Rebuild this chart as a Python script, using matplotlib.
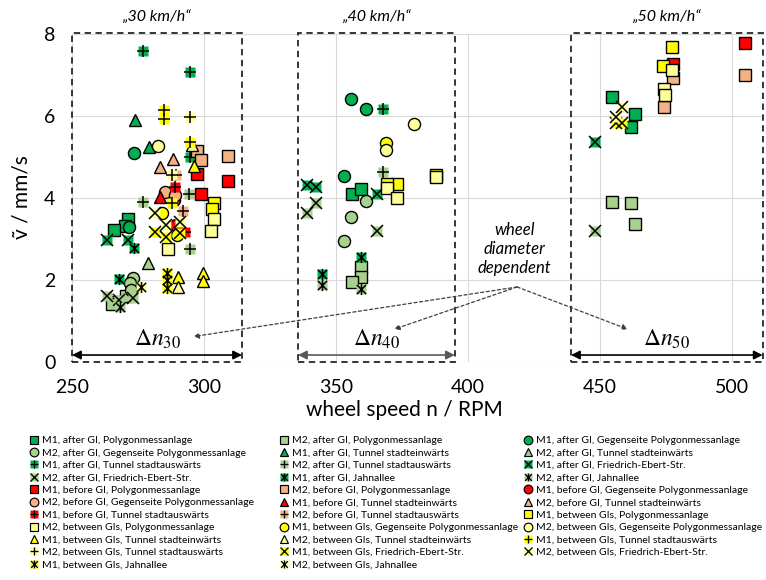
import matplotlib
matplotlib.use('Agg')
import matplotlib.pyplot as plt
from matplotlib.path import Path
from matplotlib.lines import Line2D
from matplotlib.legend_handler import HandlerTuple
from matplotlib.patches import Rectangle

plt.rcParams['font.family'] = ['Lato', 'DejaVu Sans']
plt.rcParams['mathtext.fontset'] = 'stix'

# ---------------- data (wheel speed n / RPM, vibration velocity v / mm/s) ----------------
after_m1_poly_n = [271.3, 270.1, 265.9, 356.2, 359.5, 454.7, 463.3, 461.7]
after_m1_poly_v = [3.50, 3.32, 3.22, 4.09, 4.21, 6.46, 6.04, 5.74]
after_m2_poly_n = [266.3, 270.5, 265.0, 359.4, 359.5, 356.2, 454.7, 461.7, 463.3]
after_m2_poly_v = [1.47, 1.60, 1.41, 2.31, 2.08, 1.96, 3.91, 3.87, 3.36]
after_m1_gegen_n = [273.5, 271.7, 355.6, 361.2, 353.0]
after_m1_gegen_v = [5.10, 3.30, 6.41, 6.16, 4.54]
after_m2_gegen_n = [273.2, 272.0, 272.3, 361.2, 355.6, 353.0]
after_m2_gegen_v = [2.04, 1.92, 1.76, 3.93, 3.54, 2.96]
after_m1_tein_n = [273.7, 279.0]
after_m1_tein_v = [5.90, 5.24]
after_m2_tein_n = [278.9]
after_m2_tein_v = [2.41]
after_m1_taus_n = [277.0, 294.6, 294.7, 367.7]
after_m1_taus_v = [7.59, 7.07, 5.01, 6.16]
after_m2_taus_n = [277.0, 294.4, 294.7, 367.7]
after_m2_taus_v = [3.90, 4.10, 2.76, 4.64]
after_m1_febert_n = [263.1, 271.3, 339.1, 342.3, 365.4, 448.1]
after_m1_febert_v = [2.98, 2.98, 4.32, 4.28, 4.10, 5.37]
after_m2_febert_n = [263.1, 267.9, 273.2, 342.3, 339.1, 365.4, 448.1]
after_m2_febert_v = [1.61, 1.51, 1.55, 3.87, 3.64, 3.20, 3.20]
after_m1_jahn_n = [273.5, 267.9, 359.5, 344.6]
after_m1_jahn_v = [2.77, 2.02, 2.55, 2.15]
after_m2_jahn_n = [268.2, 359.5, 344.6]
after_m2_jahn_v = [1.35, 1.78, 1.88]

before_m1_poly_n = [297.2, 309.2, 298.7, 477.8, 504.9]
before_m1_poly_v = [4.58, 4.42, 4.09, 7.28, 7.78]
before_m2_poly_n = [297.3, 298.7, 309.2, 477.8, 474.2, 504.9]
before_m2_poly_v = [5.15, 4.92, 5.03, 6.92, 6.21, 7.00]
before_m1_gegen_n = [288.5, 289.5]
before_m1_gegen_v = [3.95, 3.35]
before_m2_gegen_n = [285.2, 289.0]
before_m2_gegen_v = [4.15, 4.07]
before_m1_tein_n = [283.3]
before_m1_tein_v = [4.02]
before_m2_tein_n = [288.4, 283.3]
before_m2_tein_v = [4.94, 4.75]
before_m1_taus_n = [289.0, 292.8]
before_m1_taus_v = [4.28, 3.18]
before_m2_taus_n = [289.5, 292.2]
before_m2_taus_v = [4.56, 3.69]

between_m1_poly_n = [303.8, 302.9, 373.2, 369.2, 387.9, 477.4, 474.0]
between_m1_poly_v = [3.87, 3.73, 4.34, 4.34, 4.55, 7.69, 7.22]
between_m2_poly_n = [303.8, 302.7, 286.5, 369.2, 373.2, 387.9, 477.4, 474.2, 474.6]
between_m2_poly_v = [3.49, 3.20, 2.75, 4.24, 3.99, 4.52, 7.12, 6.65, 6.51]
between_m1_gegen_n = [284.2, 289.9, 368.8]
between_m1_gegen_v = [3.64, 3.10, 5.35]
between_m2_gegen_n = [282.5, 379.5, 368.8]
between_m2_gegen_v = [5.27, 5.80, 5.17]
between_m1_tein_n = [296.3, 290.3, 299.5, 299.5]
between_m1_tein_v = [4.78, 2.07, 2.16, 1.98]
between_m2_tein_n = [290.3, 295.5]
between_m2_tein_v = [1.82, 5.30]
between_m1_taus_n = [284.8, 284.8, 294.7, 287.8]
between_m1_taus_v = [6.15, 5.92, 5.36, 3.87]
between_m2_taus_n = [294.7, 287.7]
between_m2_taus_v = [5.98, 4.56]
between_m1_febert_n = [281.4, 285.6, 290.9, 456.1, 458.2]
between_m1_febert_v = [3.18, 3.06, 3.14, 5.82, 5.82]
between_m2_febert_n = [281.4, 285.6, 290.9, 458.4, 456.1]
between_m2_febert_v = [3.64, 3.34, 3.42, 6.21, 5.98]
between_m1_jahn_n = [285.9, 285.9, 285.9]
between_m1_jahn_v = [2.18, 2.00, 1.80]
between_m2_jahn_n = [276.0]
between_m2_jahn_v = [1.84]

x_ticks = [250, 300, 350, 400, 450, 500]
y_ticks = [0, 2, 4, 6, 8]
speed_labels = ['„30 km/h“', '„40 km/h“', '„50 km/h“']
delta_labels = [r'$\Delta n_{30}$', r'$\Delta n_{40}$', r'$\Delta n_{50}$']
box_ranges = [(250.0, 314.4), (335.6, 395.0), (439.0, 511.6)]

GREEN, LGREEN = '#00B050', '#A9D18E'
RED, SALMON = '#FF0000', '#F4B183'
YELLOW, LYELLOW = '#FFFF00', '#FFFF99'

series = [
    ('M1, after GI, Polygonmessanlage', GREEN, 's', after_m1_poly_n, after_m1_poly_v),
    ('M2, after GI, Polygonmessanlage', LGREEN, 's', after_m2_poly_n, after_m2_poly_v),
    ('M1, after GI, Gegenseite Polygonmessanlage', GREEN, 'o', after_m1_gegen_n, after_m1_gegen_v),
    ('M2, after GI, Gegenseite Polygonmessanlage', LGREEN, 'o', after_m2_gegen_n, after_m2_gegen_v),
    ('M1, after GI, Tunnel stadteinwärts', GREEN, '^', after_m1_tein_n, after_m1_tein_v),
    ('M2, after GI, Tunnel stadteinwärts', LGREEN, '^', after_m2_tein_n, after_m2_tein_v),
    ('M1, after GI, Tunnel stadtauswärts', GREEN, 'plus', after_m1_taus_n, after_m1_taus_v),
    ('M2, after GI, Tunnel stadtauswärts', LGREEN, 'plus', after_m2_taus_n, after_m2_taus_v),
    ('M1, after GI, Friedrich-Ebert-Str.', GREEN, 'x', after_m1_febert_n, after_m1_febert_v),
    ('M2, after GI, Friedrich-Ebert-Str.', LGREEN, 'x', after_m2_febert_n, after_m2_febert_v),
    ('M1, after GI, Jahnallee', GREEN, 'star', after_m1_jahn_n, after_m1_jahn_v),
    ('M2, after GI, Jahnallee', LGREEN, 'star', after_m2_jahn_n, after_m2_jahn_v),
    ('M1, before GI, Polygonmessanlage', RED, 's', before_m1_poly_n, before_m1_poly_v),
    ('M2, before GI, Polygonmessanlage', SALMON, 's', before_m2_poly_n, before_m2_poly_v),
    ('M1, before GI, Gegenseite Polygonmessanlage', RED, 'o', before_m1_gegen_n, before_m1_gegen_v),
    ('M2, before GI, Gegenseite Polygonmessanlage', SALMON, 'o', before_m2_gegen_n, before_m2_gegen_v),
    ('M1, before GI, Tunnel stadteinwärts', RED, '^', before_m1_tein_n, before_m1_tein_v),
    ('M2, before GI, Tunnel stadteinwärts', SALMON, '^', before_m2_tein_n, before_m2_tein_v),
    ('M1, before GI, Tunnel stadtauswärts', RED, 'plus', before_m1_taus_n, before_m1_taus_v),
    ('M2, before GI, Tunnel stadtauswärts', SALMON, 'plus', before_m2_taus_n, before_m2_taus_v),
    ('M1, between GIs, Polygonmessanlage', YELLOW, 's', between_m1_poly_n, between_m1_poly_v),
    ('M2, between GIs, Polygonmessanlage', LYELLOW, 's', between_m2_poly_n, between_m2_poly_v),
    ('M1, between GIs, Gegenseite Polygonmessanlage', YELLOW, 'o', between_m1_gegen_n, between_m1_gegen_v),
    ('M2, between GIs, Gegenseite Polygonmessanlage', LYELLOW, 'o', between_m2_gegen_n, between_m2_gegen_v),
    ('M1, between GIs, Tunnel stadteinwärts', YELLOW, '^', between_m1_tein_n, between_m1_tein_v),
    ('M2, between GIs, Tunnel stadteinwärts', LYELLOW, '^', between_m2_tein_n, between_m2_tein_v),
    ('M1, between GIs, Tunnel stadtauswärts', YELLOW, 'plus', between_m1_taus_n, between_m1_taus_v),
    ('M2, between GIs, Tunnel stadtauswärts', LYELLOW, 'plus', between_m2_taus_n, between_m2_taus_v),
    ('M1, between GIs, Friedrich-Ebert-Str.', YELLOW, 'x', between_m1_febert_n, between_m1_febert_v),
    ('M2, between GIs, Friedrich-Ebert-Str.', LYELLOW, 'x', between_m2_febert_n, between_m2_febert_v),
    ('M1, between GIs, Jahnallee', YELLOW, 'star', between_m1_jahn_n, between_m1_jahn_v),
    ('M2, between GIs, Jahnallee', LYELLOW, 'star', between_m2_jahn_n, between_m2_jahn_v),
]

STAR = Path([(-1, -1), (1, 1), (-1, 1), (1, -1), (0, -1.2), (0, 1.2)],
            [Path.MOVETO, Path.LINETO, Path.MOVETO, Path.LINETO, Path.MOVETO, Path.LINETO])
SYMBOL = {'plus': '+', 'x': 'x', 'star': STAR}

fig = plt.figure(figsize=(7.66, 5.80), dpi=100)
ax = fig.add_axes([72 / 766, 1 - 362 / 580, 692 / 766, 328 / 580])
ax.set_xlim(250, 512.1)
ax.set_ylim(0, 8)
ax.set_xticks(x_ticks)
ax.set_yticks(y_ticks)
ax.tick_params(length=0, labelsize=14, pad=12)
for s in ax.spines.values():
    s.set_visible(False)
ax.set_axisbelow(True)
ax.grid(color='#d9d9d9', lw=0.8)


def draw(x, y, color, kind, z, ms_scale=1.0, on_ax=True):
    kw = dict(ls='none')
    if kind in ('s', 'o', '^'):
        ms = {'s': 8.2, 'o': 8.7, '^': 8.7}[kind] * ms_scale
        h = Line2D(x, y, marker=kind, ms=ms, mfc=color, mec='black', mew=1.0 * ms_scale ** 0.5, zorder=z, **kw)
        if on_ax:
            ax.add_line(h)
        return h
    bg = Line2D(x, y, marker='s', ms=7.6 * ms_scale, mfc=color, mec='none', zorder=z, **kw)
    fg = Line2D(x, y, marker=SYMBOL[kind], ms=8 * ms_scale, mfc='none', mec='black',
                mew=1.1 * ms_scale ** 0.5, zorder=z + 0.1, **kw)
    if on_ax:
        ax.add_line(bg)
        ax.add_line(fg)
    return (bg, fg)


handles = []
for i, (lab, col, kind, xs, ys) in enumerate(series):
    draw(xs, ys, col, kind, 3 + i * 0.2)
    handles.append(draw([0], [0], col, kind, 1, ms_scale=0.72, on_ax=False))

# dashed boxes, arrows, Δn labels, speed labels
for (x0, x1), sl, dl, acol in zip(box_ranges, speed_labels, delta_labels,
                                  ['black', '#595959', 'black']):
    ax.add_patch(Rectangle((x0, 0), x1 - x0, 8.03, fill=False, ec='#262626', lw=1.3,
                           ls=(0, (3.5, 2.5)), clip_on=False, zorder=2))
    ax.annotate('', xy=(x0, 0.17), xytext=(x1, 0.17),
                arrowprops=dict(arrowstyle='<|-|>', color=acol, lw=1.2, mutation_scale=13,
                                shrinkA=0, shrinkB=0), annotation_clip=False)
    ax.text((x0 + x1) / 2, 0.55, dl, ha='center', va='center', fontsize=17)
    ax.text((x0 + x1) / 2, 8.39, sl, ha='center', va='center', fontsize=11.5,
            style='italic', clip_on=False)

ax.text(417.5, 2.76, 'wheel\ndiameter\ndependent', ha='center', va='center',
        fontsize=12, style='italic', linespacing=1.25)
src = (418.6, 1.83)
for tgt in [(296.0, 0.62), (372.0, 0.80), (460.5, 0.80)]:
    ax.annotate('', xy=tgt, xytext=src,
                arrowprops=dict(arrowstyle='-|>', color='#404040', lw=0.9, ls=(0, (2.5, 2)),
                                mutation_scale=8, shrinkA=0, shrinkB=0))

fig.text(22 / 766, 1 - 197 / 580, 'ṽ / mm/s', rotation=90, ha='center', va='center', fontsize=15)
fig.text(404 / 766, 1 - 410 / 580, 'wheel speed n / RPM', ha='center', va='center', fontsize=15)

# legend: 3 columns filled row by row
labels = [s[0] for s in series]
col_x = [29 / 766, 279 / 766, 523 / 766]
for c in range(3):
    idx = list(range(c, len(series), 3))
    fig.legend([handles[i] for i in idx], [labels[i] for i in idx],
               loc='upper left', bbox_to_anchor=(col_x[c], 1 - 436 / 580),
               frameon=False, fontsize=7.5, labelspacing=0.3, handlelength=0.9,
               handletextpad=0.35, borderpad=0, borderaxespad=0,
               handler_map={tuple: HandlerTuple(ndivide=1)})

fig.savefig('out.png', dpi=100)
